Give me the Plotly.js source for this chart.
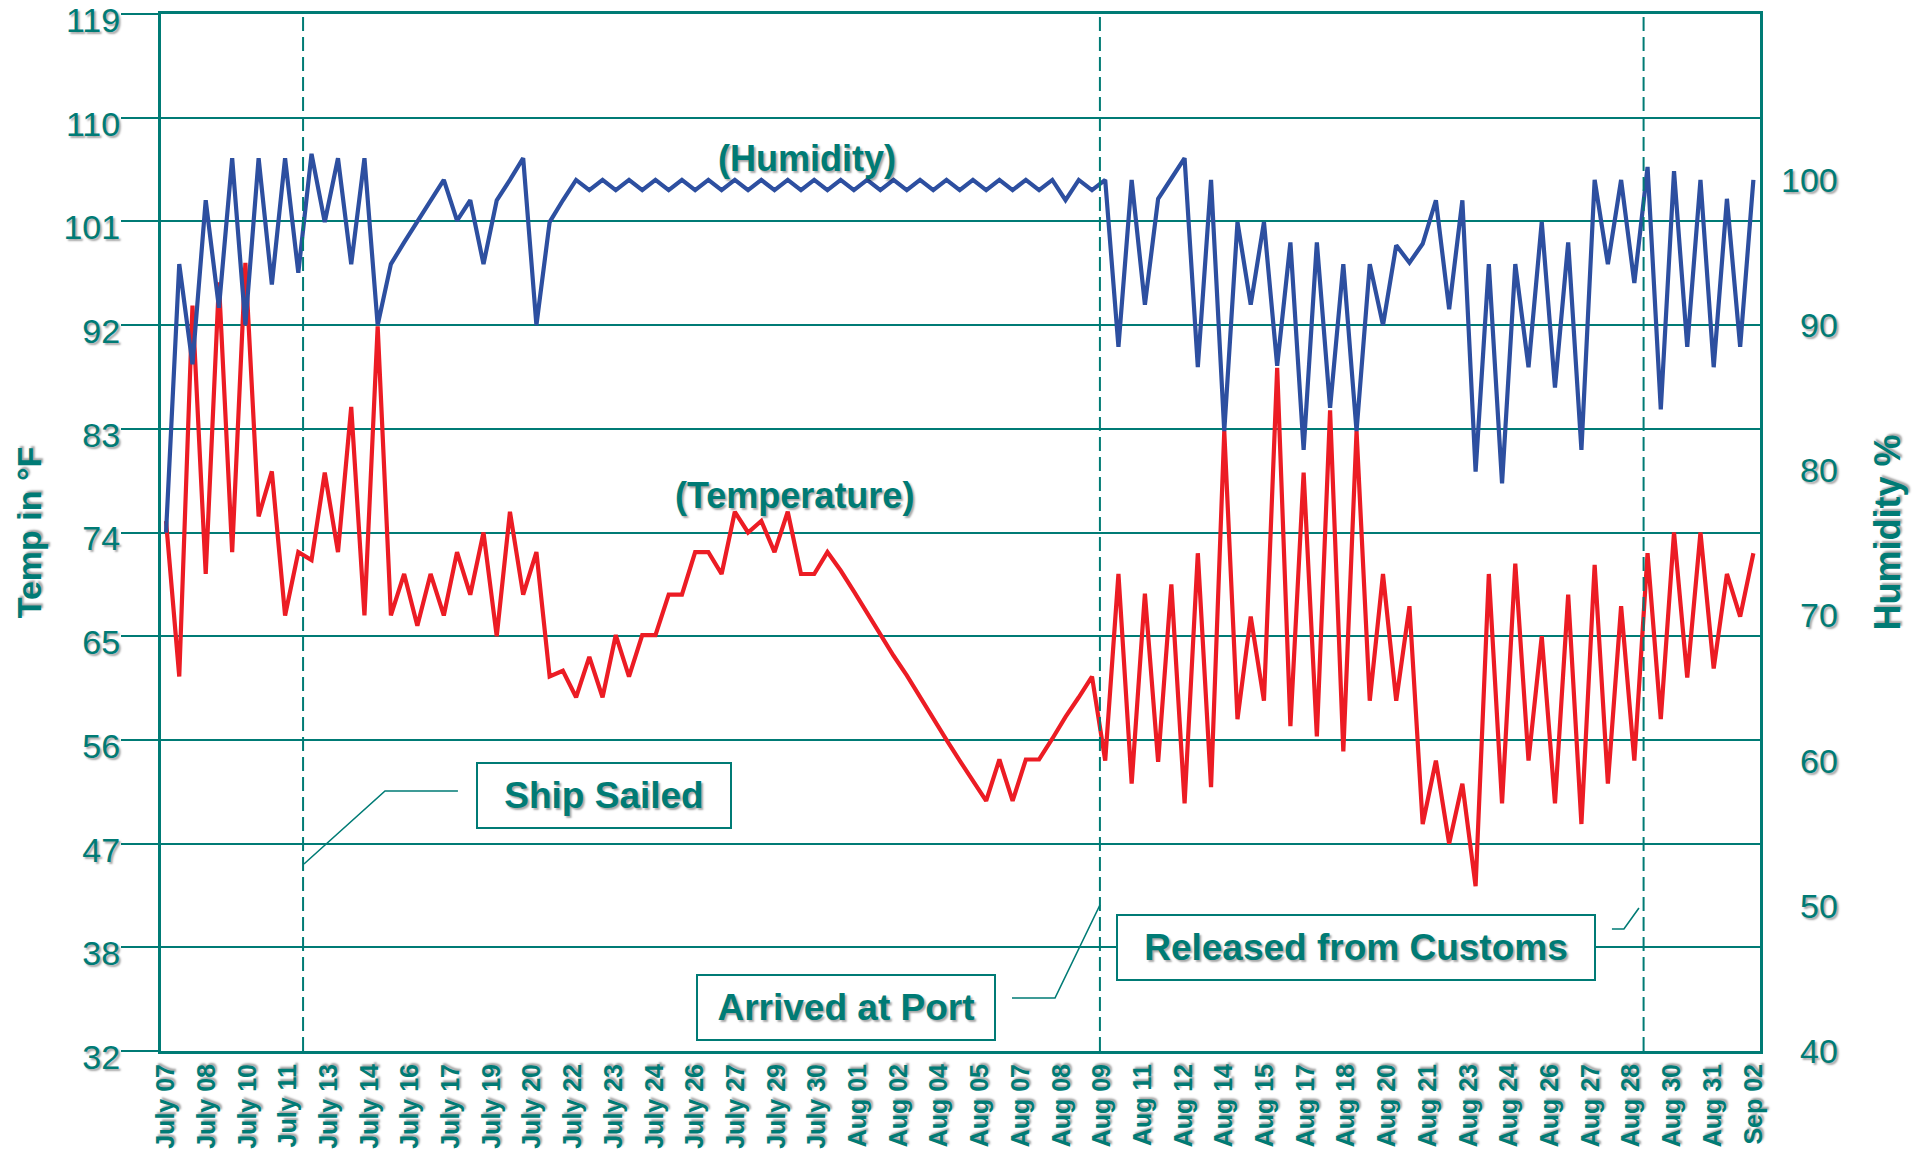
<!DOCTYPE html>
<html><head><meta charset="utf-8">
<script src="https://cdn.plot.ly/plotly-3.0.1.min.js"></script>
<style>html,body{margin:0;padding:0;background:#fff;}#chart{width:1923px;height:1155px;}</style>
</head><body><div id="chart"></div>
<script>
// ---- data ----
const dateLabels = ['July 07','July 08','July 10','July 11','July 13','July 14','July 16','July 17','July 19','July 20',
  'July 22','July 23','July 24','July 26','July 27','July 29','July 30','Aug 01','Aug 02','Aug 04',
  'Aug 05','Aug 07','Aug 08','Aug 09','Aug 11','Aug 12','Aug 14','Aug 15','Aug 17','Aug 18',
  'Aug 20','Aug 21','Aug 23','Aug 24','Aug 26','Aug 27','Aug 28','Aug 30','Aug 31','Sep 02'];

const temperatureF = [75.0,61.5,93.7,70.4,95.7,72.3,97.4,75.4,79.3,66.8,
  72.3,71.6,79.2,72.3,84.9,66.8,91.9,66.8,70.4,65.9,
  70.4,66.8,72.3,68.6,74.0,65.0,75.8,68.6,72.3,61.5,
  62.0,59.7,63.2,59.7,65.1,61.5,65.1,65.1,68.6,68.6,
  72.3,72.3,70.4,75.8,74.0,75.0,72.3,75.8,70.4,70.4,
  72.3,70.7,68.9,67.0,65.1,63.3,61.6,59.7,57.9,56.0,
  54.2,52.5,50.7,54.3,50.7,54.3,54.3,56.1,58.0,59.7,
  61.5,54.2,70.4,52.2,68.7,54.1,69.5,50.5,72.2,51.9,
  82.8,57.8,66.7,59.4,88.3,57.2,79.2,56.3,84.6,55.0,
  82.8,59.4,70.4,59.4,67.6,48.7,54.2,47.0,52.2,43.3,
  70.4,50.5,71.3,54.2,65.0,50.5,68.6,48.7,71.2,52.2,
  67.6,54.2,72.2,57.8,74.0,61.4,74.0,62.2,70.4,66.7,
  72.2];

const humidityPct = [75.7,94.2,87.3,98.6,91.2,101.5,90.0,101.5,92.8,101.5,
  93.6,101.8,97.1,101.5,94.2,101.5,90.0,94.2,95.7,97.1,
  98.6,100.0,97.2,98.6,94.2,98.6,100.0,101.5,90.0,97.1,
  98.6,100.0,99.3,100.0,99.3,100.0,99.3,100.0,99.3,100.0,
  99.3,100.0,99.3,100.0,99.3,100.0,99.3,100.0,99.3,100.0,
  99.3,100.0,99.3,100.0,99.3,100.0,99.3,100.0,99.3,100.0,
  99.3,100.0,99.3,100.0,99.3,100.0,99.3,100.0,98.6,100.0,
  99.3,100.0,88.5,100.0,91.4,98.7,100.1,101.5,87.1,100.0,
  82.7,97.1,91.4,97.1,87.2,95.7,81.4,95.7,84.3,94.2,
  82.7,94.2,90.0,95.5,94.3,95.6,98.6,91.1,98.6,79.9,
  94.2,79.1,94.2,87.1,97.1,85.7,95.7,81.4,100.0,94.2,
  100.0,92.9,100.9,84.2,100.6,88.5,100.0,87.1,98.7,88.5,
  100.0];

const tempTickValues = [29,38,47,56,65,74,83,92,101,110,119];
const tempTickLabels = ['32','38','47','56','65','74','83','92','101','110','119'];
const humidityTickValues = [40,50,60,70,80,90,100];
const humidityTickLabels = ['40','50','60','70','80','90','100'];
const eventNames = ['Ship Sailed','Arrived at Port','Released from Customs'];
const eventReadingIndex = [10.36, 70.6, 111.7];
const seriesNames = ['(Humidity)','(Temperature)'];

// ---- styling ----
const TEAL = '#007b75';
const FONT = 'Liberation Sans, Arial, Helvetica, sans-serif';
const SHADOW = '2px 2px 2px rgba(0,0,0,0.35)';

const readingIndex = temperatureF.map((_, i) => i);
const nReadings = temperatureF.length;
const labelPositions = dateLabels.map((_, i) => i * (nReadings - 1) / (dateLabels.length - 1));

const traces = [
  {x: readingIndex, y: humidityPct, yaxis: 'y2', type: 'scatter', mode: 'lines',
   name: 'Humidity', line: {color: '#2d4fa0', width: 4.2}, hoverinfo: 'skip'},
  {x: readingIndex, y: temperatureF, yaxis: 'y', type: 'scatter', mode: 'lines',
   name: 'Temperature', line: {color: '#ec1c24', width: 4.2}, hoverinfo: 'skip'}
];

const shapes = eventReadingIndex.map(v => ({
  type: 'line', xref: 'x', yref: 'paper', x0: v, x1: v, y0: 0, y1: 1,
  line: {color: TEAL, width: 2, dash: '14px,6px'}, layer: 'above'
}));
// leader lines from event lines to the labels
const leaders = [
  'M 0.0894 0.1803 L 0.1401 0.2507 L 0.1857 0.2507',
  'M 0.5322 0.0511 L 0.5591 0.0511 L 0.5872 0.1408',
  'M 0.9074 0.1176 L 0.9149 0.1176 L 0.9243 0.1379'
];
leaders.forEach(p => shapes.push({type: 'path', xref: 'paper', yref: 'paper', path: p,
  line: {color: TEAL, width: 1.6}}));

const annotations = [];
// right axis tick labels (right aligned)
humidityTickValues.forEach((v, i) => annotations.push({
  xref: 'paper', yref: 'y2', x: 1.05, y: v, xanchor: 'right', yanchor: 'middle',
  text: humidityTickLabels[i], showarrow: false,
  font: {family: FONT, size: 34, color: TEAL, shadow: SHADOW}
}));
// series labels
annotations.push({xref: 'paper', yref: 'paper', x: 0.404, y: 0.861, xanchor: 'center', yanchor: 'middle',
  text: seriesNames[0], showarrow: false,
  font: {family: FONT, size: 36, color: TEAL, weight: 'bold', shadow: SHADOW}});
annotations.push({xref: 'paper', yref: 'paper', x: 0.396, y: 0.536, xanchor: 'center', yanchor: 'middle',
  text: seriesNames[1], showarrow: false,
  font: {family: FONT, size: 36, color: TEAL, weight: 'bold', shadow: SHADOW}});
// event boxes
const boxPos = [[0.277, 0.246, 252, 63], [0.4284, 0.0419, 296, 63], [0.7473, 0.0998, 476, 63]];
eventNames.forEach((n, i) => annotations.push({
  xref: 'paper', yref: 'paper', x: boxPos[i][0], y: boxPos[i][1], xanchor: 'center', yanchor: 'middle',
  text: n, showarrow: false,
  width: boxPos[i][2], height: boxPos[i][3], borderpad: 0, borderwidth: 2, bordercolor: TEAL,
  bgcolor: '#ffffff', font: {family: FONT, size: 37, color: TEAL, weight: 'bold', shadow: SHADOW}
}));

const layout = {
  width: 1923, height: 1155,
  margin: {l: 161, r: 163, t: 14, b: 104},
  paper_bgcolor: '#ffffff', plot_bgcolor: '#ffffff',
  showlegend: false,
  xaxis: {range: [-0.38, 120.5], tickmode: 'array', tickvals: labelPositions, ticktext: dateLabels,
    tickangle: -90, ticks: '', showgrid: false, zeroline: false,
    showline: true, linecolor: TEAL, linewidth: 3, mirror: true,
    tickfont: {family: FONT, size: 25, color: TEAL, weight: 'bold', shadow: SHADOW},
    ticklabelstandoff: 0},
  yaxis: {range: [29, 119], tickmode: 'array', tickvals: tempTickValues, ticktext: tempTickLabels,
    ticks: 'outside', ticklen: 37, tickwidth: 2, tickcolor: TEAL,
    showgrid: true, gridcolor: TEAL, gridwidth: 2, zeroline: false,
    showline: true, linecolor: TEAL, linewidth: 3, mirror: true,
    ticklabeloverflow: 'allow', ticklabelstandoff: -6, ticklabelshift: 6,
    tickfont: {family: FONT, size: 34, color: TEAL, shadow: SHADOW},
    title: {text: 'Temp in °F', standoff: 12,
      font: {family: FONT, size: 34, color: TEAL, weight: 'bold', shadow: SHADOW}}},
  yaxis2: {range: [40, 111.43], overlaying: 'y', side: 'right', showgrid: false, zeroline: false,
    tickmode: 'array', tickvals: humidityTickValues, showticklabels: false, ticks: '',
    title: {text: 'Humidity %', standoff: 114,
      font: {family: FONT, size: 36, color: TEAL, weight: 'bold', shadow: SHADOW}}},
  shapes: shapes,
  annotations: annotations
};

Plotly.newPlot('chart', traces, layout, {displayModeBar: false, staticPlot: true});
</script></body></html>
